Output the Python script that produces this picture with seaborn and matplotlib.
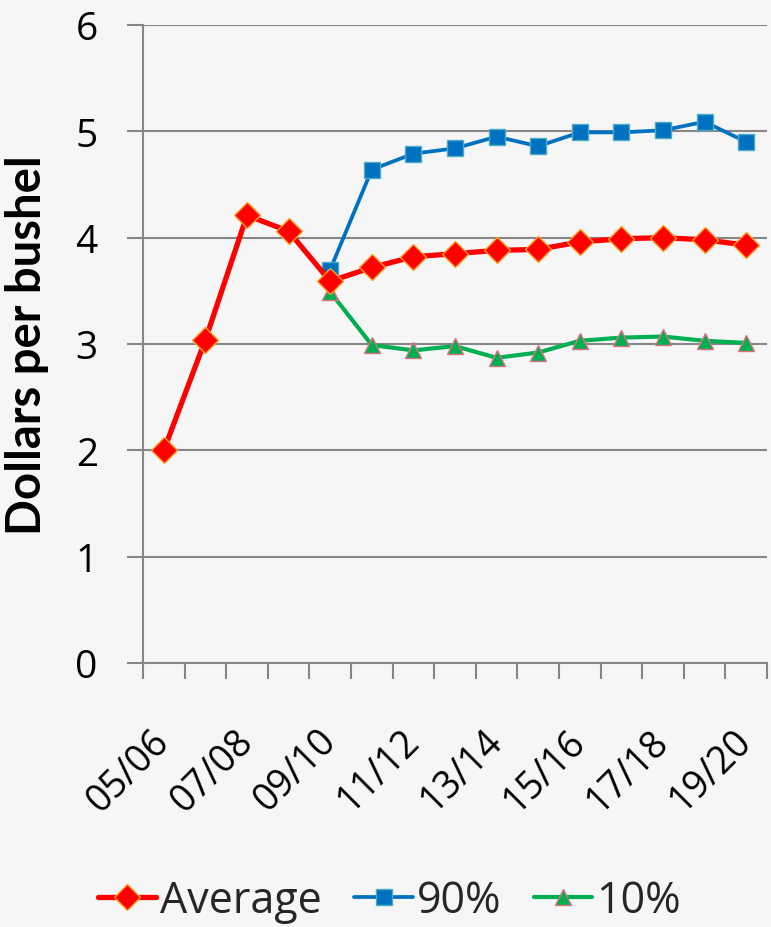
import matplotlib
matplotlib.use("Agg")
import matplotlib.pyplot as plt
import numpy as np
import pandas as pd
import seaborn as sns

# Marketing years on the x axis
years = ["05/06", "06/07", "07/08", "08/09", "09/10", "10/11", "11/12", "12/13",
         "13/14", "14/15", "15/16", "16/17", "17/18", "18/19", "19/20"]

# Season-average price, dollars per bushel
average = [2.00, 3.04, 4.21, 4.06, 3.59, 3.72, 3.82, 3.85, 3.88, 3.89, 3.96,
           3.99, 4.00, 3.98, 3.93]
# 90th and 10th percentile projections (start in 09/10)
p90 = [np.nan, np.nan, np.nan, np.nan, 3.70, 4.64, 4.79, 4.84, 4.95, 4.86, 4.99,
       4.99, 5.01, 5.09, 4.90]
p10 = [np.nan, np.nan, np.nan, np.nan, 3.49, 2.99, 2.94, 2.98, 2.87, 2.92, 3.03,
       3.06, 3.07, 3.03, 3.01]

series_names = ["Average", "90%", "10%"]
y_ticks = [0, 1, 2, 3, 4, 5, 6]
shown_years = years[::2]

sns.set_theme(style="white")
plt.rcParams["font.family"] = ["Open Sans", "DejaVu Sans"]

BG = "#f6f6f6"
GRID = "#868686"

fig = plt.figure(figsize=(7.71, 9.28), dpi=100, facecolor=BG)
ax = fig.add_axes([143 / 771, 1 - 664 / 928, 624 / 771, (664 - 26) / 928])
ax.set_facecolor(BG)

idx = np.arange(len(years))
df = pd.DataFrame({"idx": idx, "Average": average, "90%": p90, "10%": p10})

styles = {
    "Average": dict(color="#ff0000", lw=3.8, marker="D", ms=13.5,
                    mfc="#ff0000", mec="#ffa020", mew=1.0),
    "90%": dict(color="#0070c0", lw=2.7, marker="s", ms=11.5,
                mfc="#0070c0", mec="#4bacc6", mew=1.0),
    "10%": dict(color="#00b050", lw=3.0, marker="^", ms=11,
                mfc="#00b050", mec="#e07080", mew=1.0),
}

for name in ["10%", "90%", "Average"]:
    st = styles[name]
    sub = df[["idx", name]].dropna()
    sns.lineplot(data=sub, x="idx", y=name, ax=ax, color=st["color"],
                 linewidth=st["lw"], marker=st["marker"], markersize=st["ms"],
                 markerfacecolor=st["mfc"], markeredgecolor=st["mec"],
                 markeredgewidth=st["mew"], label=name, legend=False, zorder=3)

line_by_label = {l.get_label(): l for l in ax.get_lines()}
handles = [line_by_label[n] for n in series_names]

ax.set_xlim(-0.5, len(years) - 0.5)
ax.set_ylim(0, 6)

# Gridlines and axes
ax.set_yticks(y_ticks)
ax.set_yticklabels([str(v) for v in y_ticks])
ax.yaxis.grid(True, color=GRID, lw=1.5)
ax.xaxis.grid(False)
for side in ["top", "right"]:
    ax.spines[side].set_visible(False)
for side in ["left", "bottom"]:
    ax.spines[side].set_color(GRID)
    ax.spines[side].set_linewidth(1.5)

ax.tick_params(axis="y", which="major", direction="out", length=11.5, width=1.5,
               color=GRID, pad=21, labelsize=28, left=True, labelcolor="black")

# Tick marks between categories, labels on every other category
ax.set_xticks(np.arange(-0.5, len(years), 1.0))
ax.set_xticklabels([])
ax.tick_params(axis="x", which="major", direction="out", length=11.5, width=1.5,
               color=GRID, bottom=True)
ax.set_xticks(idx[::2], minor=True)
ax.set_xticklabels(shown_years, minor=True)
ax.tick_params(axis="x", which="minor", length=0, pad=52, labelsize=27,
               labelcolor="black")
for lab in ax.get_xticklabels(minor=True):
    lab.set_rotation(45)
    lab.set_rotation_mode("anchor")
    lab.set_ha("right")
    lab.set_va("center")

ax.set_xlabel("")
ax.set_ylabel("Dollars per bushel", fontsize=34, fontweight="bold",
              family=["Lato", "DejaVu Sans"], color="black")
ax.yaxis.set_label_coords(-94 / 624, 0.5)

fig.legend(handles, series_names, loc="center", bbox_to_anchor=(0.505, 1 - 902 / 928),
           ncol=3, frameon=False, fontsize=31, handlelength=1.35,
           handletextpad=0.1, columnspacing=0.75, borderaxespad=0)

fig.savefig("out.png", dpi=100, facecolor=BG)
